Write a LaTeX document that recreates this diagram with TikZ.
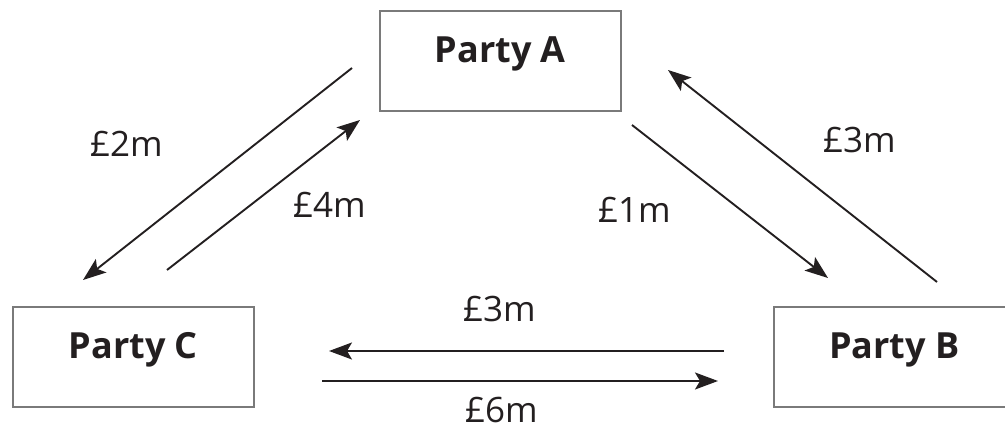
\documentclass[tikz,border=0pt]{standalone}
\usepackage{fontspec}
\setmainfont{Open Sans}
\usetikzlibrary{arrows.meta}
\definecolor{ink}{HTML}{231F20}
\definecolor{boxline}{HTML}{7A7A7A}
\tikzset{
  partybox/.style={draw=boxline, line width=1.6pt, fill=white, rectangle, anchor=north west,
    minimum width=241pt, inner sep=0pt, text height=52pt, text depth=48pt,
    font=\fontsize{36}{40}\selectfont\bfseries, text=ink},
  money/.style={anchor=base west, inner sep=0pt, font=\fontsize{35}{40}\selectfont, text=ink},
  flow/.style={draw=ink, line width=1.9pt, -{Stealth[length=23pt,width=17pt,inset=5pt]}}
}
\begin{document}
\begin{tikzpicture}[x=1pt,y=-1pt]
\useasboundingbox (0,0) rectangle (1005,430);
\node[partybox] (A) at (379,10) {Party A};
\node[partybox] (C) at (12,306) {Party C};
\node[partybox] (B) at (773,306) {Party B};
% endpoints
\coordinate (ac1) at (352,68);  \coordinate (ac2) at (83,280);
\coordinate (ca1) at (167,270); \coordinate (ca2) at (360,120);
\coordinate (ab1) at (632,125); \coordinate (ab2) at (828,278);
\coordinate (ba1) at (937,282); \coordinate (ba2) at (668,70);
\coordinate (bc1) at (724,351); \coordinate (bc2) at (329,351);
\coordinate (cb1) at (322,381); \coordinate (cb2) at (718,381);
\draw[flow] (ac1) -- (ac2);
\draw[flow] (ca1) -- (ca2);
\draw[flow] (ab1) -- (ab2);
\draw[flow] (ba1) -- (ba2);
\draw[flow] (bc1) -- (bc2);
\draw[flow] (cb1) -- (cb2);
% labels
\node[money] (l2) at (90,157) {£2m};
\node[money] (l4) at (293,218) {£4m};
\node[money] (l1) at (598,223) {£1m};
\node[money] (l3a) at (823,153) {£3m};
\node[money] (l3b) at (463,322) {£3m};
\node[money] (l6) at (465,423) {£6m};
\end{tikzpicture}
\end{document}
